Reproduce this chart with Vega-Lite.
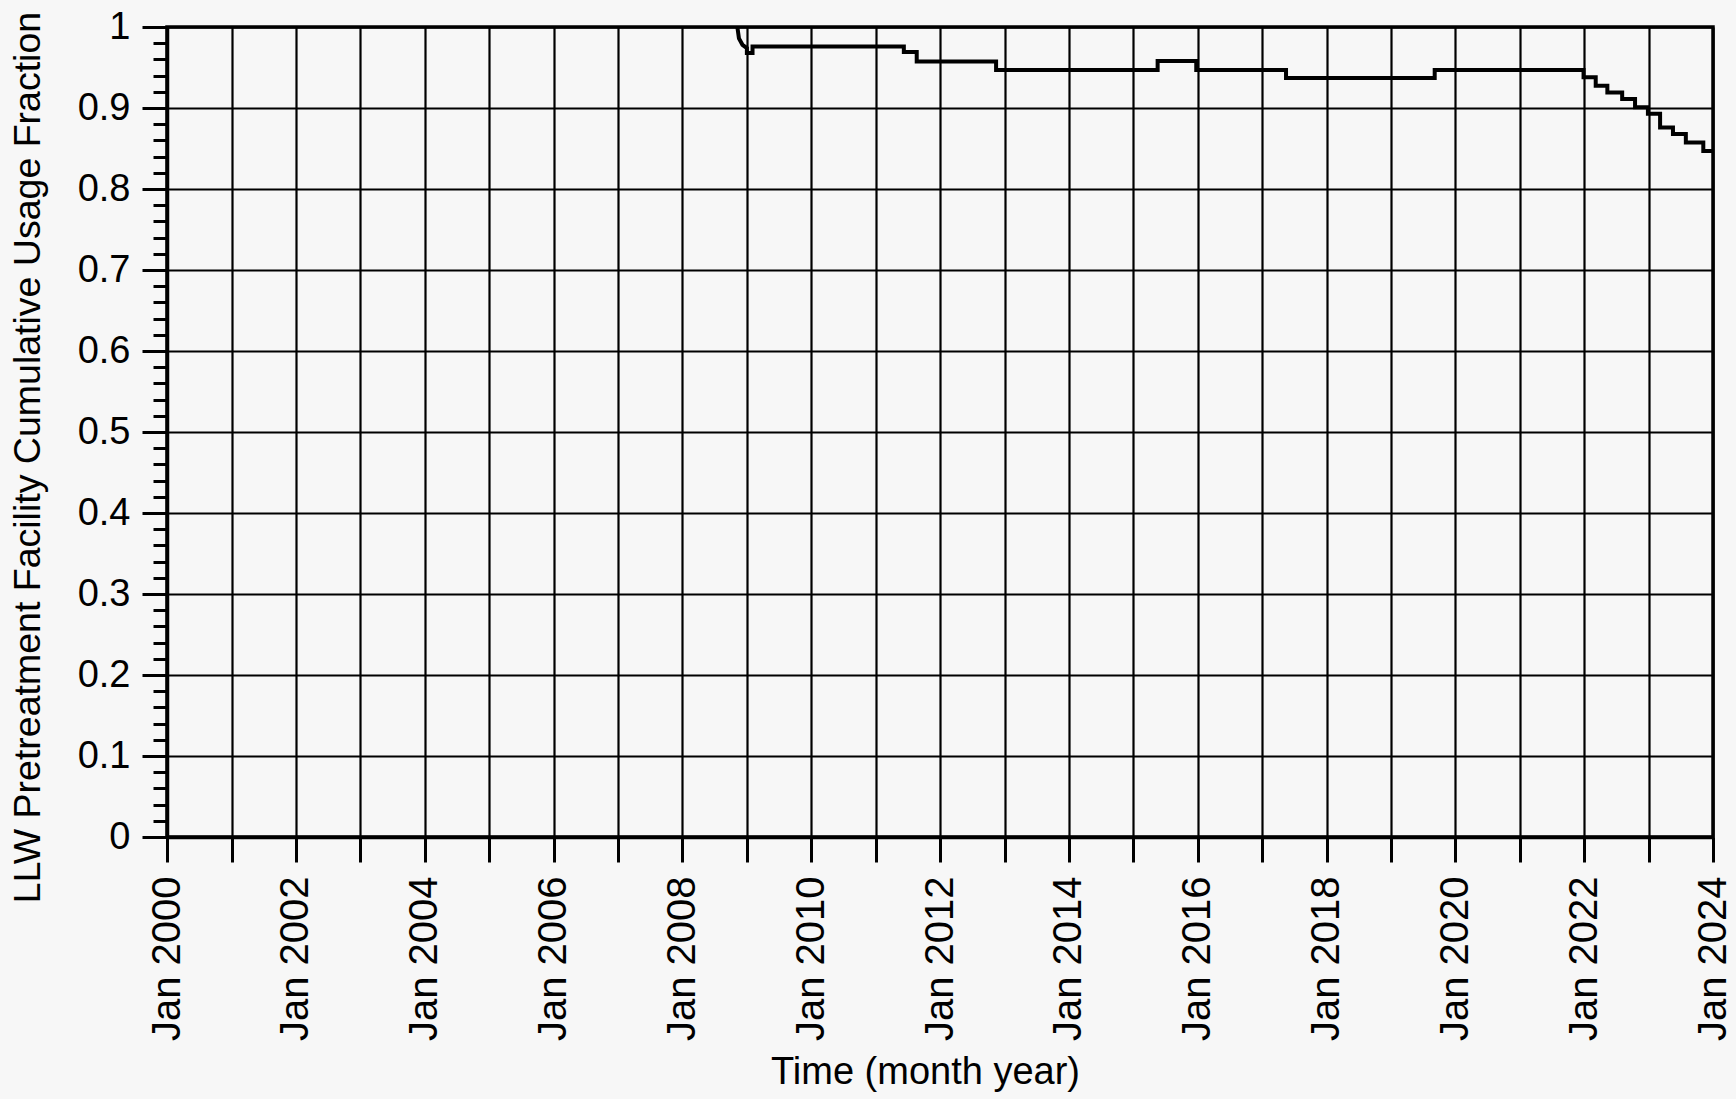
{
  "$schema": "https://vega.github.io/schema/vega-lite/v6.json",
  "autosize": {"type": "none"},
  "padding": {"left": 167, "top": 27, "right": 23, "bottom": 262},
  "width": 1546,
  "height": 810,
  "background": "#f7f7f7",
  "config": {
    "view": {"stroke": "black", "strokeWidth": 3.5},
    "axis": {
      "domainColor": "black", "domainWidth": 3.5,
      "tickColor": "black", "tickWidth": 3,
      "gridColor": "black", "gridWidth": 2.2, "gridOpacity": 1,
      "labelFont": "Liberation Sans", "labelColor": "black",
      "titleFont": "Liberation Sans", "titleColor": "black", "titleFontWeight": "normal"
    }
  },
  "data": {
    "values": [
      {"i": 1, "date": "2008-11-08", "fraction": 1.0},
      {"i": 2, "date": "2008-11-17", "fraction": 0.986},
      {"i": 3, "date": "2008-12-07", "fraction": 0.978},
      {"i": 4, "date": "2009-01-01", "fraction": 0.974},
      {"i": 5, "date": "2009-01-01", "fraction": 0.968},
      {"i": 6, "date": "2009-02-02", "fraction": 0.968},
      {"i": 7, "date": "2009-02-02", "fraction": 0.976},
      {"i": 8, "date": "2011-06-10", "fraction": 0.976},
      {"i": 9, "date": "2011-06-10", "fraction": 0.969},
      {"i": 10, "date": "2011-08-22", "fraction": 0.969},
      {"i": 11, "date": "2011-08-22", "fraction": 0.9575},
      {"i": 12, "date": "2012-11-14", "fraction": 0.9575},
      {"i": 13, "date": "2012-11-14", "fraction": 0.947},
      {"i": 14, "date": "2015-05-19", "fraction": 0.947},
      {"i": 15, "date": "2015-05-19", "fraction": 0.958},
      {"i": 16, "date": "2015-12-24", "fraction": 0.958},
      {"i": 17, "date": "2015-12-24", "fraction": 0.947},
      {"i": 18, "date": "2017-05-16", "fraction": 0.947},
      {"i": 19, "date": "2017-05-16", "fraction": 0.937},
      {"i": 20, "date": "2019-09-06", "fraction": 0.937},
      {"i": 21, "date": "2019-09-06", "fraction": 0.947},
      {"i": 22, "date": "2021-12-28", "fraction": 0.947},
      {"i": 23, "date": "2021-12-28", "fraction": 0.938},
      {"i": 24, "date": "2022-03-07", "fraction": 0.938},
      {"i": 25, "date": "2022-03-07", "fraction": 0.9275},
      {"i": 26, "date": "2022-05-12", "fraction": 0.9275},
      {"i": 27, "date": "2022-05-12", "fraction": 0.919},
      {"i": 28, "date": "2022-08-04", "fraction": 0.919},
      {"i": 29, "date": "2022-08-04", "fraction": 0.911},
      {"i": 30, "date": "2022-10-16", "fraction": 0.911},
      {"i": 31, "date": "2022-10-16", "fraction": 0.901},
      {"i": 32, "date": "2022-12-28", "fraction": 0.901},
      {"i": 33, "date": "2022-12-28", "fraction": 0.893},
      {"i": 34, "date": "2023-03-07", "fraction": 0.893},
      {"i": 35, "date": "2023-03-07", "fraction": 0.876},
      {"i": 36, "date": "2023-05-19", "fraction": 0.876},
      {"i": 37, "date": "2023-05-19", "fraction": 0.868},
      {"i": 38, "date": "2023-07-31", "fraction": 0.868},
      {"i": 39, "date": "2023-07-31", "fraction": 0.8575},
      {"i": 40, "date": "2023-11-07", "fraction": 0.8575},
      {"i": 41, "date": "2023-11-07", "fraction": 0.847},
      {"i": 42, "date": "2024-01-01", "fraction": 0.847}
    ]
  },
  "mark": {"type": "line", "color": "black", "strokeWidth": 4, "clip": true},
  "encoding": {
    "order": {"field": "i", "type": "quantitative"},
    "x": {
      "field": "date", "type": "temporal",
      "scale": {"type": "utc", "domain": [{"year": 2000, "month": 1, "date": 1, "utc": true}, {"year": 2024, "month": 1, "date": 1, "utc": true}]},
      "axis": {
        "values": [
          {"year": 2000, "month": 1, "date": 1, "utc": true}, {"year": 2001, "month": 1, "date": 1, "utc": true},
          {"year": 2002, "month": 1, "date": 1, "utc": true}, {"year": 2003, "month": 1, "date": 1, "utc": true},
          {"year": 2004, "month": 1, "date": 1, "utc": true}, {"year": 2005, "month": 1, "date": 1, "utc": true},
          {"year": 2006, "month": 1, "date": 1, "utc": true}, {"year": 2007, "month": 1, "date": 1, "utc": true},
          {"year": 2008, "month": 1, "date": 1, "utc": true}, {"year": 2009, "month": 1, "date": 1, "utc": true},
          {"year": 2010, "month": 1, "date": 1, "utc": true}, {"year": 2011, "month": 1, "date": 1, "utc": true},
          {"year": 2012, "month": 1, "date": 1, "utc": true}, {"year": 2013, "month": 1, "date": 1, "utc": true},
          {"year": 2014, "month": 1, "date": 1, "utc": true}, {"year": 2015, "month": 1, "date": 1, "utc": true},
          {"year": 2016, "month": 1, "date": 1, "utc": true}, {"year": 2017, "month": 1, "date": 1, "utc": true},
          {"year": 2018, "month": 1, "date": 1, "utc": true}, {"year": 2019, "month": 1, "date": 1, "utc": true},
          {"year": 2020, "month": 1, "date": 1, "utc": true}, {"year": 2021, "month": 1, "date": 1, "utc": true},
          {"year": 2022, "month": 1, "date": 1, "utc": true}, {"year": 2023, "month": 1, "date": 1, "utc": true},
          {"year": 2024, "month": 1, "date": 1, "utc": true}
        ],
        "labelExpr": "utcyear(datum.value) % 2 == 0 ? utcFormat(datum.value, '%b %Y') : ''",
        "labelAngle": 270,
        "labelAlign": "right",
        "labelBaseline": "middle",
        "labelFontSize": 40,
        "labelPadding": 14,
        "labelOverlap": false,
        "labelFlush": false,
        "tickSize": 25,
        "title": "Time (month year)",
        "titleFontSize": 38,
        "titleAlign": "center",
        "titleBaseline": "alphabetic",
        "titleX": 758,
        "titleY": 246
      }
    },
    "y": {
      "field": "fraction", "type": "quantitative",
      "scale": {"domain": [0, 1], "nice": false, "zero": true},
      "axis": {
        "values": [0, 0.02, 0.04, 0.06, 0.08, 0.1, 0.12, 0.14, 0.16, 0.18, 0.2, 0.22, 0.24, 0.26, 0.28, 0.3, 0.32, 0.34, 0.36, 0.38, 0.4, 0.42, 0.44, 0.46, 0.48, 0.5, 0.52, 0.54, 0.56, 0.58, 0.6, 0.62, 0.64, 0.66, 0.68, 0.7, 0.72, 0.74, 0.76, 0.78, 0.8, 0.82, 0.84, 0.86, 0.88, 0.9, 0.92, 0.94, 0.96, 0.98, 1],
        "format": "~g",
        "labelExpr": "abs(datum.value * 10 - round(datum.value * 10)) < 0.001 ? datum.label : ''",
        "tickSize": {"condition": {"test": "abs(datum.value * 10 - round(datum.value * 10)) < 0.001", "value": 25}, "value": 14},
        "gridOpacity": {"condition": {"test": "abs(datum.value * 10 - round(datum.value * 10)) < 0.001", "value": 1}, "value": 0},
        "labelFontSize": 38,
        "labelPadding": 12,
        "labelBaseline": "middle",
        "labelOverlap": false,
        "labelFlush": false,
        "title": "LLW Pretreatment Facility Cumulative Usage Fraction",
        "titleFontSize": 37.5,
        "titleAngle": 270,
        "titleAlign": "center",
        "titleBaseline": "middle",
        "titleX": -139,
        "titleY": 430
      }
    }
  }
}
